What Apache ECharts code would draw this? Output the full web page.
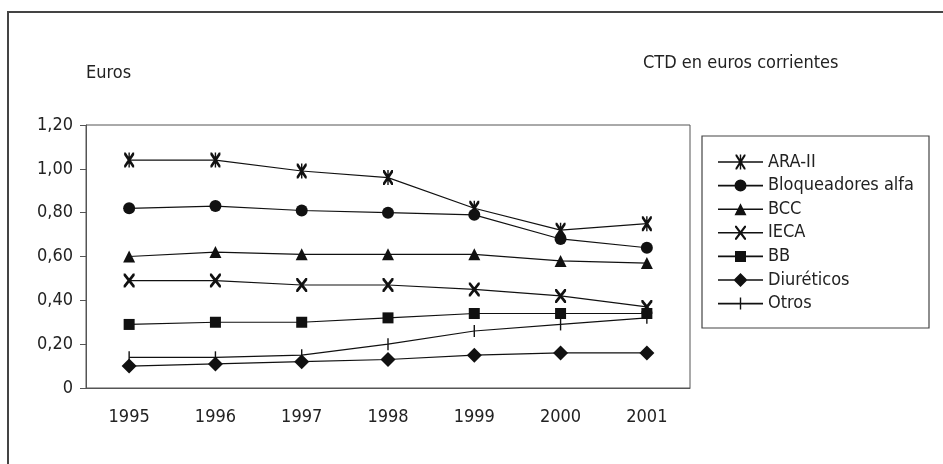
<!DOCTYPE html>
<html>
<head>
<meta charset="utf-8">
<script src="https://cdn.jsdelivr.net/npm/echarts@6/dist/echarts.min.js"></script>
<style>
  html, body { margin: 0; padding: 0; background: #fff; }
  #chart { width: 943px; height: 464px; }
</style>
</head>
<body>
<div id="chart"></div>
<script>
const years = ['1995', '1996', '1997', '1998', '1999', '2000', '2001'];
const araII = [1.04, 1.04, 0.99, 0.96, 0.82, 0.72, 0.75];
const bloqueadores = [0.82, 0.83, 0.81, 0.80, 0.79, 0.68, 0.64];
const bcc = [0.60, 0.62, 0.61, 0.61, 0.61, 0.58, 0.57];
const ieca = [0.49, 0.49, 0.47, 0.47, 0.45, 0.42, 0.37];
const bb = [0.29, 0.30, 0.30, 0.32, 0.34, 0.34, 0.34];
const diureticos = [0.10, 0.11, 0.12, 0.13, 0.15, 0.16, 0.16];
const otros = [0.14, 0.14, 0.15, 0.20, 0.26, 0.29, 0.32];

const FONT = "'DejaVu Sans Condensed', 'DejaVu Sans', sans-serif";
const FS = 18;
const INK = '#222';

// marker shapes (all subpaths clockwise so nonzero fill keeps overlaps solid)
const xPath = 'path://M0,0 L1.6,0 L10,8.4 L10,10 L8.4,10 L0,1.6 Z M10,0 L10,1.6 L1.6,10 L0,10 L0,8.4 L8.4,0 Z';
const starPath = 'path://M0,0 L1.6,0 L10,8.4 L10,10 L8.4,10 L0,1.6 Z M10,0 L10,1.6 L1.6,10 L0,10 L0,8.4 L8.4,0 Z M4.3,0 L5.7,0 L5.7,10 L4.3,10 Z';
const barPath = 'path://M0,0 L1,0 L1,10 L0,10 Z';

// legend icons: 45 wide, line through the middle plus the marker
const LN = 'M0,6.7 L45,6.7 L45,8.3 L0,8.3 Z ';
const legStar = 'path://' + LN + 'M17.5,0 L19,0 L27.5,13.5 L27.5,15 L26,15 L17.5,1.5 Z M27.5,0 L27.5,1.5 L19,15 L17.5,15 L17.5,13.5 L26,0 Z M21.8,0 L23.2,0 L23.2,15 L21.8,15 Z';
const legCircle = 'path://' + LN + 'M16.5,7.5 A6,6 0 1,1 28.5,7.5 A6,6 0 1,1 16.5,7.5 Z';
const legTri = 'path://' + LN + 'M22.5,1.5 L28.5,13.5 L16.5,13.5 Z';
const legX = 'path://' + LN + 'M17,0.5 L18.6,0.5 L28,13 L28,14.5 L26.4,14.5 L17,2 Z M28,0.5 L28,2 L18.6,14.5 L17,14.5 L17,13 L26.4,0.5 Z';
const legRect = 'path://' + LN + 'M17,2 L28,2 L28,13 L17,13 Z';
const legDiamond = 'path://' + LN + 'M22.5,0.5 L29.5,7.5 L22.5,14.5 L15.5,7.5 Z';
const legBar = 'path://' + LN + 'M21.8,1.5 L23.2,1.5 L23.2,13.5 L21.8,13.5 Z';

function mk(name, data, symbol, size) {
    return {
        name: name,
        type: 'line',
        data: data,
        symbol: symbol,
        symbolSize: size,
        symbolKeepAspect: false,
        lineStyle: { color: '#111', width: 1.2 },
        itemStyle: { color: '#111', borderWidth: 0 },
        emphasis: { disabled: true },
        animation: false
    };
}

const chart = echarts.init(document.getElementById('chart'));
chart.setOption({
    backgroundColor: '#fff',
    animation: false,
    title: [
        { text: 'Euros', left: 86, top: 63, padding: 0,
          textStyle: { fontFamily: FONT, fontSize: FS, fontWeight: 'normal', color: INK, lineHeight: 20 } },
        { text: 'CTD en euros corrientes', left: 643, top: 53, padding: 0,
          textStyle: { fontFamily: FONT, fontSize: FS, fontWeight: 'normal', color: INK, lineHeight: 20 } }
    ],
    graphic: [
        { type: 'rect', shape: { x: 8, y: 12, width: 1000, height: 500 },
          style: { fill: 'none', stroke: '#444', lineWidth: 2 }, silent: true },
        { type: 'rect', shape: { x: 702, y: 136, width: 227, height: 192 },
          style: { fill: 'none', stroke: '#444', lineWidth: 1.2 }, silent: true }
    ],
    legend: {
        orient: 'vertical',
        left: 702,
        top: 136,
        padding: [16, 10, 10, 16],
        itemWidth: 45,
        itemHeight: 15,
        itemGap: 3.6,
        symbolKeepAspect: true,
        textStyle: { fontFamily: FONT, fontSize: FS, color: INK, lineHeight: 20 },
        data: [
            { name: 'ARA-II', icon: legStar },
            { name: 'Bloqueadores alfa', icon: legCircle },
            { name: 'BCC', icon: legTri },
            { name: 'IECA', icon: legX },
            { name: 'BB', icon: legRect },
            { name: 'Diuréticos', icon: legDiamond },
            { name: 'Otros', icon: legBar }
        ]
    },
    grid: { left: 86, top: 125, right: 253, bottom: 76, show: true, borderColor: '#555', borderWidth: 1 },
    xAxis: {
        type: 'category',
        data: years,
        boundaryGap: true,
        axisLine: { lineStyle: { color: '#555', width: 1 } },
        axisTick: { length: 8, lineStyle: { color: '#555' } },
        axisLabel: { fontFamily: FONT, fontSize: FS, color: INK, margin: 20 }
    },
    yAxis: {
        type: 'value',
        min: 0,
        max: 1.2,
        interval: 0.2,
        splitLine: { show: false },
        axisLine: { show: true, lineStyle: { color: '#555', width: 1 } },
        axisTick: { show: true, length: 6, lineStyle: { color: '#555' } },
        axisLabel: {
            fontFamily: FONT, fontSize: FS, color: INK, margin: 13,
            formatter: v => v === 0 ? '0' : v.toFixed(2).replace('.', ',')
        }
    },
    series: [
        mk('ARA-II', araII, starPath, [10, 15]),
        mk('Bloqueadores alfa', bloqueadores, 'circle', 12),
        mk('BCC', bcc, 'triangle', 12),
        mk('IECA', ieca, xPath, [11, 14]),
        mk('BB', bb, 'rect', 11),
        mk('Diuréticos', diureticos, 'diamond', 15),
        mk('Otros', otros, barPath, [1.4, 12])
    ]
});
</script>
</body>
</html>
